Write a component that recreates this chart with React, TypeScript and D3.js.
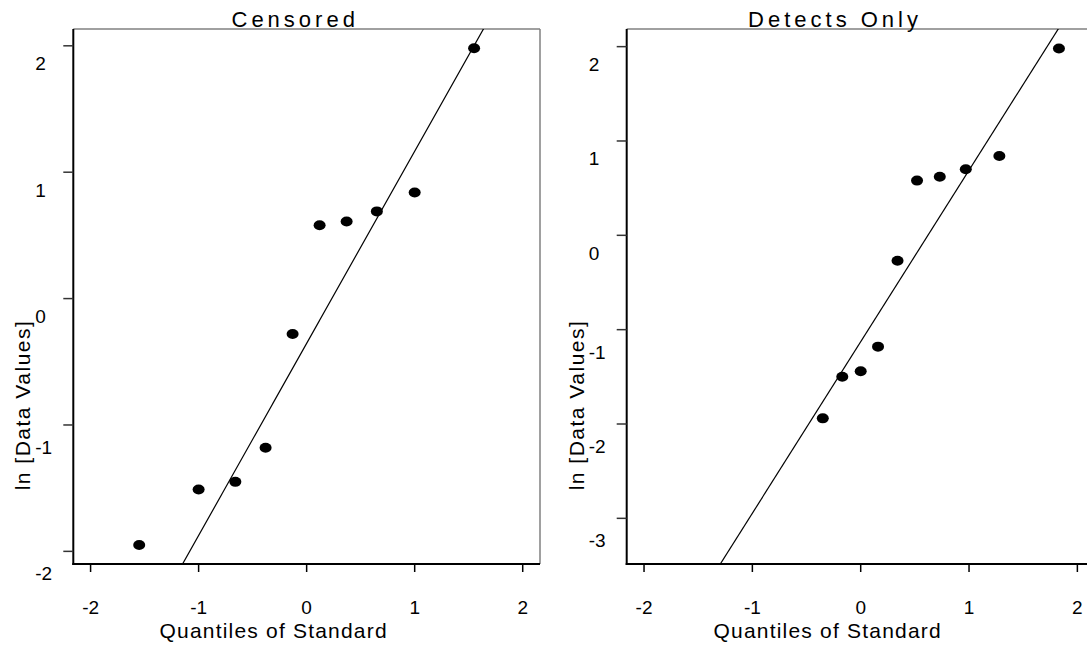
import React from 'react';
import * as d3 from 'd3';

// normal quantiles vs ln values
const censoredQuantiles = [-1.55, -1.0, -0.66, -0.38, -0.13, 0.12, 0.37, 0.65, 1.0, 1.55];
const censoredValues = [-1.95, -1.51, -1.45, -1.18, -0.28, 0.58, 0.61, 0.69, 0.84, 1.98];
const detectsQuantiles = [-0.35, -0.17, 0.0, 0.16, 0.34, 0.52, 0.73, 0.97, 1.28, 1.83];
const detectsValues = [-1.94, -1.5, -1.44, -1.18, -0.27, 0.58, 0.62, 0.7, 0.84, 1.98];

// fitted lines: [intercept, slope]
const censoredFit = [-0.354, 1.52];
const detectsFit = [-1.128, 1.818];

const xTicks = [-2, -1, 0, 1, 2];
const censoredYTicks = [-2, -1, 0, 1, 2];
const detectsYTicks = [-3, -2, -1, 0, 1, 2];

const xDomain = [-2.16, 2.16];
const censoredYDomain = [-2.1, 2.133];
const detectsYDomain = [-3.484, 2.187];

const W = 1087;
const H = 645;
const top = 29;
const bottom = 564;
const font = '"Liberation Sans", Arial, sans-serif';

function Panel({ id, title, titleX, titleAnchor, left, right, xs, ys, fit, yDomain, yTicks }) {
  const x = d3.scaleLinear().domain(xDomain).range([left, right]);
  const y = d3.scaleLinear().domain(yDomain).range([bottom, top]);
  const line = d3
    .line()
    .x((d) => x(d))
    .y((d) => y(fit[0] + fit[1] * d));
  const mid = (left + right) / 2;

  return (
    <g>
      <defs>
        <clipPath id={id}>
          <rect x={left} y={top} width={right - left} height={bottom - top} />
        </clipPath>
      </defs>
      {/* box */}
      <line x1={left} x2={right} y1={top} y2={top} stroke="#808080" strokeWidth={1.5} />
      <line x1={right} x2={right} y1={top} y2={bottom} stroke="#808080" strokeWidth={1.5} />
      <line x1={left} x2={left} y1={top} y2={bottom + 1} stroke="#000" strokeWidth={2} />
      <line x1={left - 1} x2={right} y1={bottom} y2={bottom} stroke="#000" strokeWidth={2} />

      {/* y axis */}
      {yTicks.map((t) => (
        <g key={'y' + t}>
          <line x1={left - 10} x2={left} y1={y(t)} y2={y(t)} stroke="#333" strokeWidth={1.5} />
          <text
            x={left - 38}
            y={y(t) + (t < 0 ? 29 : 24.5)}
            fontFamily={font}
            fontSize={19}
            fill="#000"
          >
            {t}
          </text>
        </g>
      ))}

      {/* x axis */}
      {xTicks.map((t) => (
        <g key={'x' + t}>
          <line x1={x(t)} x2={x(t)} y1={bottom} y2={bottom + 8} stroke="#000" strokeWidth={1.5} />
          <text x={x(t)} y={613.5} textAnchor="middle" fontFamily={font} fontSize={19} fill="#000">
            {t}
          </text>
        </g>
      ))}

      <text
        x={mid - 33}
        y={637.5}
        textAnchor="middle"
        fontFamily={font}
        fontSize={21}
        letterSpacing={1.2}
        fill="#000"
      >
        Quantiles of Standard
      </text>
      <text
        transform={`translate(${left - 43},405) rotate(-90)`}
        textAnchor="middle"
        fontFamily={font}
        fontSize={21}
        letterSpacing={1.5}
        fill="#000"
      >
        ln [Data Values]
      </text>
      <text
        x={titleX}
        y={27}
        textAnchor={titleAnchor}
        fontFamily={font}
        fontSize={22}
        letterSpacing={4}
        fill="#000"
      >
        {title}
      </text>

      {/* fitted line */}
      <path
        d={line(xDomain)}
        fill="none"
        stroke="#000"
        strokeWidth={1.2}
        clipPath={`url(#${id})`}
      />

      {/* points */}
      {xs.map((q, i) => (
        <ellipse key={i} cx={x(q)} cy={y(ys[i])} rx={6} ry={5} fill="#000" />
      ))}
    </g>
  );
}

export default function App() {
  return (
    <svg
      width={W}
      height={H}
      style={{ position: 'absolute', left: 0, top: 0, background: '#fff' }}
    >
      <rect width={W} height={H} fill="#fff" />
      <Panel
        id="clipCensored"
        title="Censored"
        titleX={231.5}
        titleAnchor="start"
        left={73.3}
        right={540}
        xs={censoredQuantiles}
        ys={censoredValues}
        fit={censoredFit}
        yDomain={censoredYDomain}
        yTicks={censoredYTicks}
      />
      <Panel
        id="clipDetects"
        title="Detects Only"
        titleX={922}
        titleAnchor="end"
        left={626.7}
        right={1094.7}
        xs={detectsQuantiles}
        ys={detectsValues}
        fit={detectsFit}
        yDomain={detectsYDomain}
        yTicks={detectsYTicks}
      />
    </svg>
  );
}
